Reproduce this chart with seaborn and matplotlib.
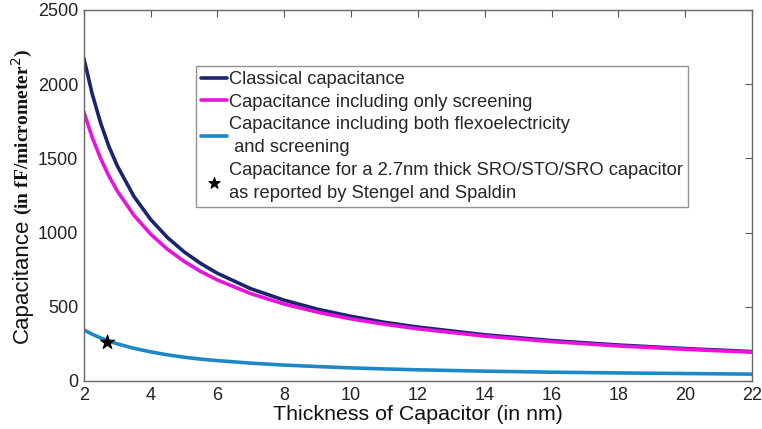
import matplotlib
matplotlib.use("Agg")
import matplotlib.pyplot as plt
import seaborn as sns
import pandas as pd

thickness = [2, 2.25, 2.5, 2.75, 3, 3.5, 4, 4.5, 5, 5.5, 6, 7, 8, 9, 10, 11, 12, 14, 16, 18, 20, 22]
classical = [2175, 1935, 1740, 1580, 1450, 1243, 1088, 967, 870, 791, 725, 621, 544, 483, 435, 395,
             363, 311, 272, 242, 218, 198]
screening = [1813, 1642, 1500, 1381, 1280, 1116, 989, 888, 806, 737, 680, 588, 518, 463, 418, 382,
             351, 302, 265, 236, 213, 194]
flexo = [344, 315, 290, 268, 250, 220, 196, 176, 160, 147, 137, 120, 107, 97, 88, 81,
         75, 66, 59, 54, 50, 46]
star_x = [2.7]
star_y = [263]

labels = ["Classical capacitance",
          "Capacitance including only screening",
          "Capacitance including both flexoelectricity\n and screening",
          "Capacitance for a 2.7nm thick SRO/STO/SRO capacitor\nas reported by Stengel and Spaldin"]
colors = ["#1c2470", "#e614dc", "#1e88c6"]

sns.set_style("white")
plt.rcParams['font.family'] = ['Liberation Sans', 'DejaVu Sans']

fig = plt.figure(figsize=(7.62, 4.29), dpi=100)
ax = fig.add_axes([0.110, 0.112, 0.877, 0.865])

n = len(thickness)
df = pd.DataFrame({"x": thickness * 3,
                   "y": classical + screening + flexo,
                   "s": [labels[0]] * n + [labels[1]] * n + [labels[2]] * n})
sns.lineplot(data=df, x="x", y="y", hue="s", palette=colors, linewidth=2.6, ax=ax, legend=True)
sns.scatterplot(x=star_x, y=star_y, marker="*", s=110, color="black", edgecolor="black",
                ax=ax, label=labels[3], zorder=5)

ax.set_xlim(2, 22)
ax.set_ylim(0, 2500)
ax.set_xticks(range(2, 23, 2))
ax.set_yticks(range(0, 2501, 500))
ax.tick_params(direction="in", length=5, labelsize=13, top=True, right=True,
               color="#555555", labelcolor="#222222", pad=4)
for sp in ax.spines.values():
    sp.set_color("#666666")
    sp.set_linewidth(1.0)

ax.set_xlabel("Thickness of Capacitor (in nm)", fontsize=15.4, labelpad=1, color="#111111")
ax.set_ylabel("")
fig.text(0.029, 0.345, "Capacitance", rotation=90, fontsize=16, ha="center", va="center", color="#111111")
fig.text(0.029, 0.692, "(in fF/micrometer$^{2}$)", rotation=90, fontsize=14, ha="center", va="center",
         family="Liberation Serif", fontweight="bold", color="#111111")

handles, labs = ax.get_legend_handles_labels()
leg = ax.legend(handles, labs, loc="upper left", bbox_to_anchor=(0.1677, 0.849), fontsize=13.2,
                frameon=True, fancybox=False, edgecolor="#777777", handlelength=1.4,
                handletextpad=0.1, borderpad=0.3, labelspacing=0.3, borderaxespad=0,
                markerscale=0.8)
leg.get_frame().set_linewidth(1.0)
for t in leg.get_texts():
    t.set_linespacing(1.45)

fig.savefig("out.png", dpi=100)
